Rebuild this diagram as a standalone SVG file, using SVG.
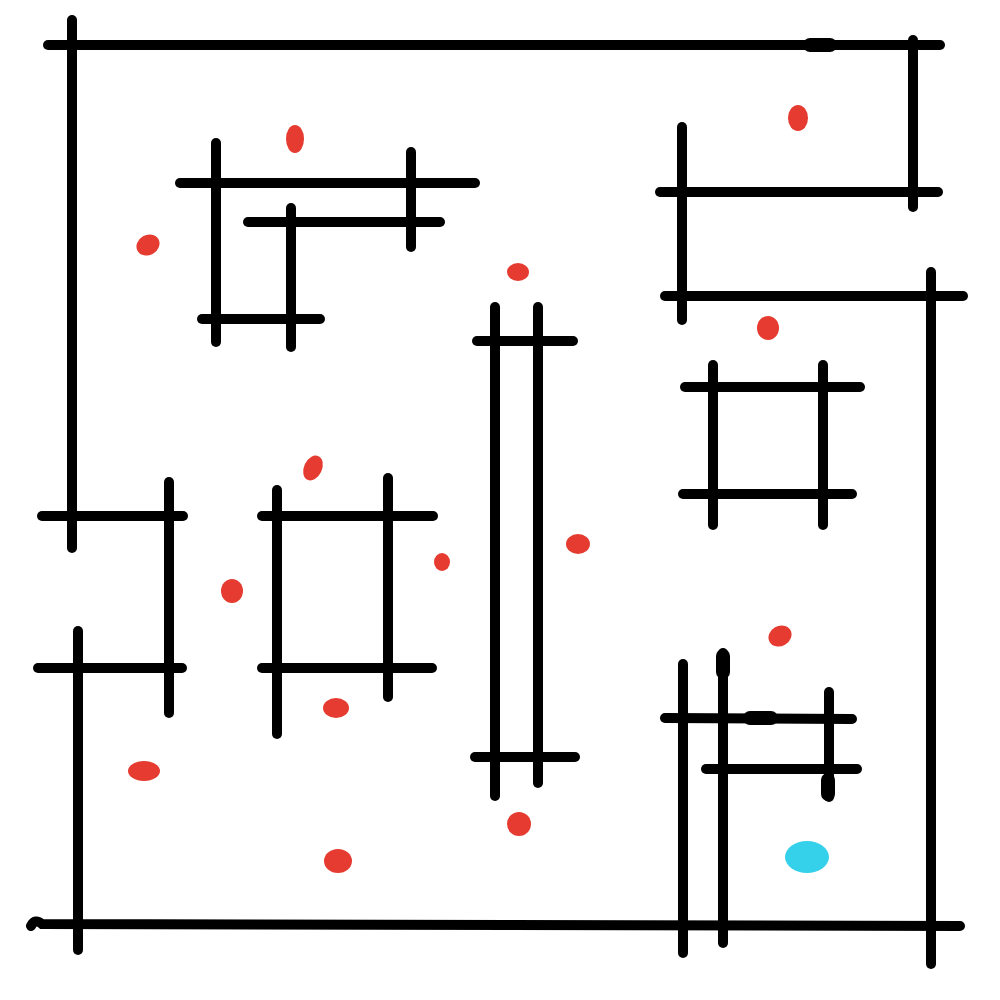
<svg xmlns="http://www.w3.org/2000/svg" width="1000" height="1000" viewBox="0 0 1000 1000">
<style>
.w{stroke:#000;stroke-width:10;stroke-linecap:round;fill:none}
.t{stroke:#000;stroke-width:14;stroke-linecap:round;fill:none}
.r{fill:#e53b30}
.c{fill:#35d1eb}
</style>
<rect width="1000" height="1000" fill="#fff"/>
<g id="walls">
<line class="w" x1="48" y1="45" x2="940" y2="45"/>
<line class="t" x1="810" y1="45" x2="830" y2="45"/>
<line class="w" x1="72" y1="20" x2="72" y2="548"/>
<line class="w" x1="913" y1="40" x2="913" y2="207"/>
<line class="w" x1="180" y1="183" x2="475" y2="183"/>
<line class="w" x1="216" y1="143" x2="216" y2="342"/>
<line class="w" x1="411" y1="152" x2="411" y2="247"/>
<line class="w" x1="248" y1="222" x2="440" y2="222"/>
<line class="w" x1="291" y1="208" x2="291" y2="347"/>
<line class="w" x1="202" y1="319" x2="320" y2="319"/>
<line class="w" x1="660" y1="192" x2="938" y2="192"/>
<line class="w" x1="682" y1="127" x2="682" y2="320"/>
<line class="w" x1="665" y1="296" x2="963" y2="296"/>
<line class="w" x1="931" y1="272" x2="931" y2="964"/>
<line class="w" x1="495" y1="307" x2="495" y2="796"/>
<line class="w" x1="538" y1="307" x2="538" y2="783"/>
<line class="w" x1="477" y1="341" x2="573" y2="341"/>
<line class="w" x1="475" y1="757" x2="575" y2="757"/>
<line class="w" x1="685" y1="387" x2="860" y2="387"/>
<line class="w" x1="683" y1="494" x2="852" y2="494"/>
<line class="w" x1="713" y1="365" x2="713" y2="525"/>
<line class="w" x1="823" y1="365" x2="823" y2="525"/>
<line class="w" x1="42" y1="516" x2="183" y2="516"/>
<line class="w" x1="38" y1="668" x2="182" y2="668"/>
<line class="w" x1="169" y1="482" x2="169" y2="713"/>
<line class="w" x1="78" y1="631" x2="78" y2="950"/>
<line class="w" x1="262" y1="516" x2="433" y2="516"/>
<line class="w" x1="262" y1="668" x2="432" y2="668"/>
<line class="w" x1="277" y1="490" x2="277" y2="734"/>
<line class="w" x1="388" y1="478" x2="388" y2="697"/>
<path class="w" d="M31 926 Q35 918 42 924 L960 926"/>
<line class="w" x1="683" y1="664" x2="683" y2="953"/>
<line class="w" x1="723" y1="653" x2="723" y2="943"/>
<line class="t" x1="723" y1="656" x2="723" y2="672"/>
<line class="w" x1="665" y1="718" x2="852" y2="719"/>
<line class="t" x1="750" y1="718" x2="771" y2="718"/>
<line class="w" x1="706" y1="769" x2="857" y2="769"/>
<line class="w" x1="829" y1="692" x2="829" y2="797"/>
<line class="t" x1="828" y1="780" x2="828" y2="794"/>
</g>
<g id="dots">
<ellipse class="r" cx="295" cy="139" rx="9" ry="14"/>
<ellipse class="r" cx="148" cy="245" rx="12" ry="10" transform="rotate(-30 148 245)"/>
<ellipse class="r" cx="798" cy="118" rx="10" ry="13"/>
<ellipse class="r" cx="518" cy="272" rx="11" ry="9"/>
<ellipse class="r" cx="768" cy="328" rx="11" ry="12"/>
<ellipse class="r" cx="313" cy="468" rx="9" ry="13" transform="rotate(25 313 468)"/>
<ellipse class="r" cx="232" cy="591" rx="11" ry="12"/>
<ellipse class="r" cx="442" cy="562" rx="8" ry="9"/>
<ellipse class="r" cx="578" cy="544" rx="12" ry="10"/>
<ellipse class="r" cx="336" cy="708" rx="13" ry="10"/>
<ellipse class="r" cx="144" cy="771" rx="16" ry="10"/>
<ellipse class="r" cx="780" cy="636" rx="12" ry="10" transform="rotate(-30 780 636)"/>
<ellipse class="r" cx="519" cy="824" rx="12" ry="12"/>
<ellipse class="r" cx="338" cy="861" rx="14" ry="12"/>
<ellipse class="c" cx="807" cy="857" rx="22" ry="16"/>
</g>
</svg>
